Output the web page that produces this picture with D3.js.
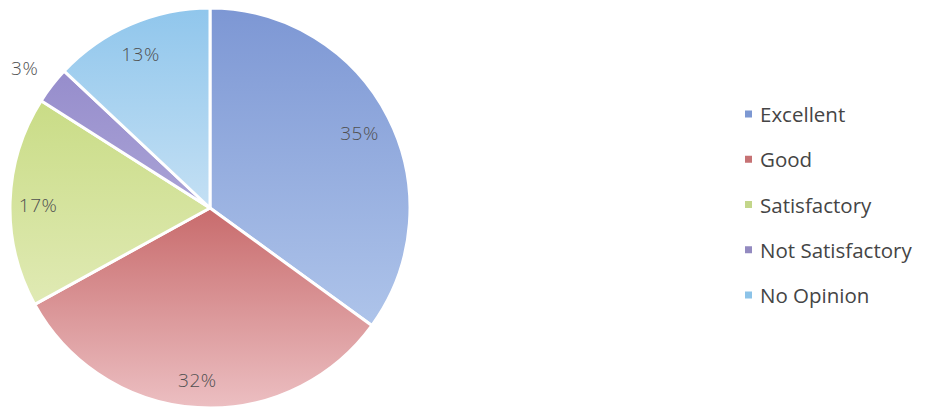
<!DOCTYPE html>
<html>
<head>
<meta charset="utf-8">
<script src="https://cdn.jsdelivr.net/npm/d3@7"></script>
<style>
  html, body { margin: 0; padding: 0; background: #ffffff; }
  svg { display: block; }
</style>
</head>
<body>
<svg id="chart" width="928" height="408"></svg>
<script>
// Survey responses (percent of respondents)
const categories = ["Excellent", "Good", "Satisfactory", "Not Satisfactory", "No Opinion"];
const values = [35, 32, 17, 3, 13];
const labels = ["35%", "32%", "17%", "3%", "13%"];
// Gradient stops per slice: [top colour, bottom colour]
const topColors = ["#7d97d4", "#c86b6c", "#c9dc86", "#968dcc", "#90c6ec"];
const bottomColors = ["#aec4ea", "#ecbfc2", "#e0eab4", "#aaa3d6", "#c4e0f4"];
const legendColors = ["#7d98d2", "#c67274", "#c3d68a", "#938ac0", "#8cc3e8"];

const width = 928, height = 408;
const cx = 210, cy = 208, R = 200;

const svg = d3.select("#chart");
const defs = svg.append("defs");

categories.forEach((c, i) => {
  const g = defs.append("linearGradient")
    .attr("id", "grad" + i)
    .attr("x1", 0).attr("y1", 0).attr("x2", 0).attr("y2", 1);
  g.append("stop").attr("offset", "0%").attr("stop-color", topColors[i]);
  g.append("stop").attr("offset", "100%").attr("stop-color", bottomColors[i]);
});

const pie = d3.pie().sort(null).value(d => d)(values);
const arc = d3.arc().innerRadius(0).outerRadius(R);
const labelArc = d3.arc().innerRadius(R * 0.85).outerRadius(R * 0.85);
const outerLabelArc = d3.arc().innerRadius(R * 1.16).outerRadius(R * 1.16);

const g = svg.append("g").attr("transform", `translate(${cx},${cy})`);

g.selectAll("path.slice")
  .data(pie)
  .join("path")
  .attr("class", "slice")
  .attr("d", arc)
  .attr("fill", (d, i) => `url(#grad${i})`)
  .attr("stroke", "#ffffff")
  .attr("stroke-width", 3)
  .attr("stroke-linejoin", "round");

g.selectAll("text.pct")
  .data(pie)
  .join("text")
  .attr("class", "pct")
  .attr("transform", (d, i) => {
    const p = (values[i] < 5 ? outerLabelArc : labelArc).centroid(d);
    return `translate(${p[0] - 2},${p[1] + 2})`;
  })
  .attr("text-anchor", "middle")
  .attr("dominant-baseline", "central")
  .attr("font-family", "'Open Sans', 'DejaVu Sans', sans-serif")
  .attr("font-size", 19)
  .attr("font-weight", 300)
  .attr("letter-spacing", 0.5)
  .attr("fill", "#505050")
  .text((d, i) => labels[i]);

// Legend
const legendY = d3.scalePoint().domain(categories).range([114, 295]);
const legend = svg.append("g");
const rows = legend.selectAll("g.row")
  .data(categories)
  .join("g")
  .attr("class", "row")
  .attr("transform", d => `translate(745,${legendY(d)})`);

rows.append("rect")
  .attr("x", 0).attr("y", -3.5)
  .attr("width", 7).attr("height", 7)
  .attr("fill", (d, i) => legendColors[i]);

rows.append("text")
  .attr("x", 15)
  .attr("y", 0)
  .attr("dominant-baseline", "central")
  .attr("font-family", "'Open Sans', 'DejaVu Sans', sans-serif")
  .attr("font-size", 20.5)
  .attr("fill", "#454545")
  .text(d => d);
</script>
</body>
</html>
